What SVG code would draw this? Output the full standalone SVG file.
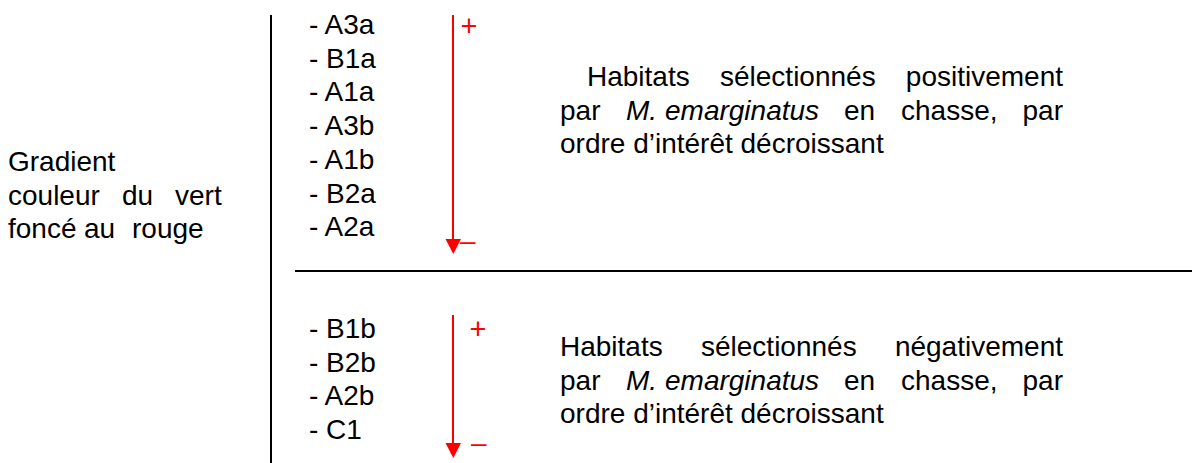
<svg xmlns="http://www.w3.org/2000/svg" width="1192" height="463" viewBox="0 0 1192 463">
  <style>
    text { font-family: "Liberation Sans", Arial, sans-serif; font-size: 28px; fill: #000; }
    .it { font-style: italic; }
    .sign { fill: #ff0000; }
    .plus { font-size: 29px; text-anchor: middle; }
    .end { text-anchor: end; }
    .rule { stroke: #000; stroke-width: 2; fill: none; }
    .scale { stroke: #ff0000; stroke-width: 2; fill: none; }
  </style>

  <rect width="1192" height="463" fill="#fff"/>

  <!-- separators and ranking arrows -->
  <g id="connectors">
    <line class="rule" x1="271" y1="15" x2="271" y2="463"/>
    <line class="rule" x1="295" y1="271" x2="1192" y2="271"/>
    <line class="scale" x1="453" y1="15" x2="453" y2="240"/>
    <path d="M445.5,239 L461,239 L453.3,254 Z" fill="#ff0000"/>
    <line class="scale" x1="453" y1="315" x2="453" y2="444"/>
    <path d="M445.5,443 L461,443 L453.3,458 Z" fill="#ff0000"/>
  </g>

  <!-- legend title -->
  <g id="gradient-label">
    <text x="8" y="171">Gradient</text>
    <text y="205"><tspan x="8">couleur</tspan><tspan x="122">du</tspan><tspan x="175">vert</tspan></text>
    <text y="238"><tspan x="8">foncé</tspan><tspan x="84">au</tspan><tspan x="132">rouge</tspan></text>
  </g>

  <!-- positively selected habitats -->
  <g id="positive-list">
    <text x="309" y="34">- A3a</text>
    <text x="309" y="67.7">- B1a</text>
    <text x="309" y="101.4">- A1a</text>
    <text x="309" y="135.1">- A3b</text>
    <text x="309" y="168.8">- A1b</text>
    <text x="309" y="202.5">- B2a</text>
    <text x="309" y="236.2">- A2a</text>
  </g>
  <g id="positive-scale">
    <text class="sign plus" x="469" y="36">+</text>
    <text class="sign" x="460" y="250">–</text>
  </g>
  <g id="positive-caption">
    <text y="86"><tspan x="587">Habitats</tspan><tspan x="720">sélectionnés</tspan><tspan x="1063" class="end">positivement</tspan></text>
    <text y="119.5"><tspan x="560">par</tspan><tspan x="626" class="it">M.</tspan><tspan x="665" class="it">emarginatus</tspan><tspan x="844">en</tspan><tspan x="901">chasse,</tspan><tspan x="1063" class="end">par</tspan></text>
    <text x="560" y="153">ordre d’intérêt décroissant</text>
  </g>

  <!-- negatively selected habitats -->
  <g id="negative-list">
    <text x="309" y="338">- B1b</text>
    <text x="309" y="371.5">- B2b</text>
    <text x="309" y="405">- A2b</text>
    <text x="309" y="438.5">- C1</text>
  </g>
  <g id="negative-scale">
    <text class="sign plus" x="478" y="339">+</text>
    <text class="sign" x="471" y="452">–</text>
  </g>
  <g id="negative-caption">
    <text y="356"><tspan x="560">Habitats</tspan><tspan x="701">sélectionnés</tspan><tspan x="1063" class="end">négativement</tspan></text>
    <text y="389.5"><tspan x="560">par</tspan><tspan x="626" class="it">M.</tspan><tspan x="665" class="it">emarginatus</tspan><tspan x="844">en</tspan><tspan x="901">chasse,</tspan><tspan x="1063" class="end">par</tspan></text>
    <text x="560" y="423">ordre d’intérêt décroissant</text>
  </g>
</svg>
